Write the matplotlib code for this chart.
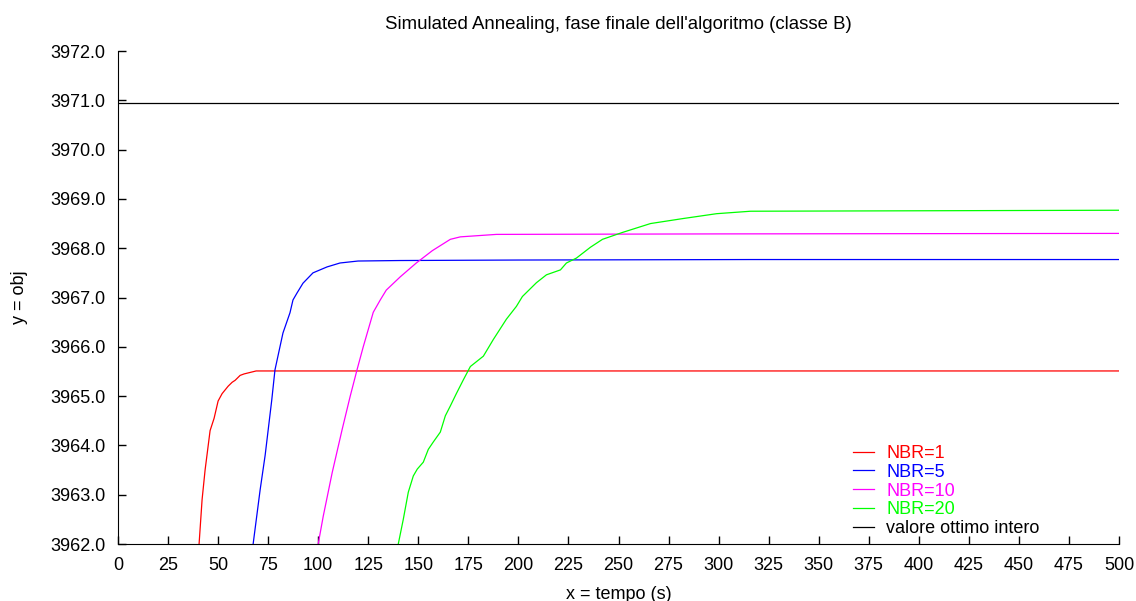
import numpy as np
import matplotlib
matplotlib.use('Agg')
import matplotlib.pyplot as plt

plt.rcParams['font.family'] = ['Liberation Sans', 'DejaVu Sans']

# NBR=1
x1 = [40.5, 42, 43.5, 46, 48, 50, 52, 55, 57, 58.5, 61, 63, 66, 69, 500]
y1 = [3962.0, 3962.9, 3963.5, 3964.3, 3964.55, 3964.9, 3965.05, 3965.2, 3965.28, 3965.32, 3965.42, 3965.45,
      3965.48, 3965.51, 3965.51]
# NBR=5
x5 = [67.5, 71, 73.5, 76.8, 78.4, 80.9, 82.4, 85.9, 87.4, 89.4, 92.4, 97.4, 104.4, 110.9, 119.9, 141, 200, 316, 500]
y5 = [3962.0, 3963.1, 3963.8, 3964.92, 3965.53, 3966.0, 3966.28, 3966.69, 3966.95, 3967.09, 3967.29, 3967.5,
      3967.62, 3967.7, 3967.74, 3967.75, 3967.76, 3967.77, 3967.77]
# NBR=10
x10 = [100, 102.5, 107, 112, 116, 119.5, 122.5, 125, 127.5, 131, 134, 141, 149, 157, 166, 171, 189, 300, 500]
y10 = [3962.0, 3962.56, 3963.45, 3964.33, 3965.0, 3965.55, 3966.0, 3966.35, 3966.7, 3966.95, 3967.15, 3967.42,
       3967.7, 3967.95, 3968.18, 3968.23, 3968.28, 3968.29, 3968.3]
# NBR=20
x20 = [140, 142.5, 145, 147.5, 149.5, 152.5, 155, 157.5, 161, 163.5, 166, 169, 172.5, 176, 182.5, 187.5, 194, 199,
       202, 209, 214, 221, 224, 229, 236, 242, 252, 266, 282, 299, 316, 500]
y20 = [3962.0, 3962.5, 3963.05, 3963.38, 3963.52, 3963.66, 3963.92, 3964.07, 3964.27, 3964.6, 3964.8, 3965.05,
       3965.33, 3965.6, 3965.81, 3966.15, 3966.56, 3966.82, 3967.02, 3967.3, 3967.46, 3967.56, 3967.7, 3967.8,
       3968.02, 3968.18, 3968.32, 3968.5, 3968.6, 3968.7, 3968.75, 3968.77]
ottimo = 3970.95

fig = plt.figure(figsize=(11.36, 6.01), dpi=100)
ax = fig.add_axes([118 / 1136, 1 - 544 / 601, (1119 - 118) / 1136, (544 - 51) / 601])

ax.plot(x1, y1, color='#ff0000', lw=0.9, label='NBR=1')
ax.plot(x5, y5, color='#0000ff', lw=0.9, label='NBR=5')
ax.plot(x10, y10, color='#ff00ff', lw=0.9, label='NBR=10')
ax.plot(x20, y20, color='#00ff00', lw=0.9, label='NBR=20')
ax.plot([0, 500], [ottimo, ottimo], color='black', lw=0.9, label='valore ottimo intero')

ax.set_xlim(0, 500)
ax.set_ylim(3962, 3972)
ax.set_xticks(np.arange(0, 501, 25))
ax.set_yticks(np.arange(3962, 3972.1, 1))
ax.yaxis.set_major_formatter(matplotlib.ticker.FormatStrFormatter('%.1f'))
ax.spines['top'].set_visible(False)
ax.spines['right'].set_visible(False)
ax.tick_params(direction='in', length=5.5, width=1, labelsize=13)
ax.tick_params(axis='y', pad=9)
ax.tick_params(axis='x', pad=9)

ax.set_title("Simulated Annealing, fase finale dell'algoritmo (classe B)", fontsize=13.4, pad=16)
ax.set_xlabel('x = tempo (s)', fontsize=13, labelpad=9)
ax.set_ylabel('y = obj', fontsize=13, labelpad=16)

ax.legend(loc='upper left', bbox_to_anchor=(853 / 1136, 1 - 445 / 601), bbox_transform=fig.transFigure,
          frameon=False, fontsize=13, borderpad=0, borderaxespad=0,
          handlelength=1.15, handletextpad=0.7, labelspacing=0.1, labelcolor='linecolor')

fig.savefig('out.png', dpi=100)
